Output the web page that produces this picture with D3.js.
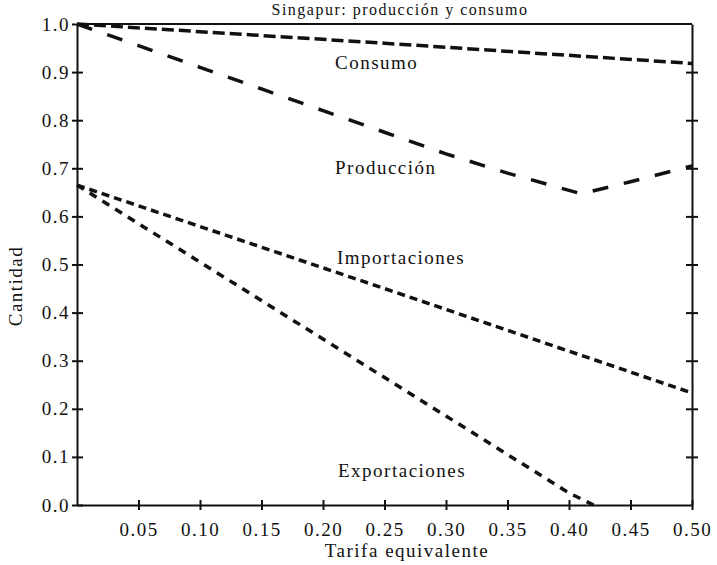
<!DOCTYPE html>
<html>
<head>
<meta charset="utf-8">
<script src="https://cdn.jsdelivr.net/npm/d3@7"></script>
<style>
  body { margin: 0; background: #fff; }
  text { font-family: "Liberation Serif", "DejaVu Serif", serif; fill: #111; }
</style>
</head>
<body>
<div id="chart"></div>
<script>
// data: [tarifa, cantidad]
var consumo = [[0, 1.0], [0.25, 0.96], [0.5, 0.918]];
var produccion = [[0, 1.0], [0.05, 0.955], [0.10, 0.91], [0.15, 0.865], [0.20, 0.82], [0.25, 0.775],
                  [0.30, 0.73], [0.35, 0.69], [0.41, 0.647], [0.45, 0.672], [0.50, 0.705]];
var importaciones = [[0, 0.665], [0.25, 0.45], [0.50, 0.233]];
var exportaciones = [[0, 0.665], [0.10, 0.505], [0.20, 0.345], [0.30, 0.185], [0.35, 0.105],
                     [0.40, 0.025], [0.42, 0.0]];
var xTicks = [0.05, 0.10, 0.15, 0.20, 0.25, 0.30, 0.35, 0.40, 0.45, 0.50];
var yTicks = [0.0, 0.1, 0.2, 0.3, 0.4, 0.5, 0.6, 0.7, 0.8, 0.9, 1.0];
var seriesNames = ["Consumo", "Producción", "Importaciones", "Exportaciones"];

var width = 717, height = 565;
var svg = d3.select("#chart").append("svg")
    .attr("width", width)
    .attr("height", height);

var x = d3.scaleLinear().domain([0, 0.5]).range([77, 692]);
var y = d3.scaleLinear().domain([0, 1]).range([505, 24]);

// title, right at the top edge like in the scan
svg.append("text")
    .attr("x", 400).attr("y", 15)
    .style("text-anchor", "middle")
    .style("font-size", "16px")
    .style("letter-spacing", "1.5px")
    .text("Singapur: producción y consumo");

// frame: top line
svg.append("line")
    .attr("x1", x(0)).attr("x2", x(0.5))
    .attr("y1", y(1)).attr("y2", y(1))
    .attr("stroke", "#111").attr("stroke-width", 2);

// bottom axis
var xAxis = svg.append("g")
    .attr("transform", `translate(0, ${y(0)})`)
    .call(d3.axisBottom(x).tickValues(xTicks).tickSize(0).tickPadding(18)
        .tickFormat(d3.format(".2f")));
xAxis.select(".domain").attr("stroke", "#111").attr("stroke-width", 2);
xAxis.selectAll(".tick line").attr("y1", -5).attr("y2", 5)
    .attr("stroke", "#111").attr("stroke-width", 2);

// left axis
var yAxis = svg.append("g")
    .attr("transform", `translate(${x(0)}, 0)`)
    .call(d3.axisLeft(y).tickValues(yTicks).tickSize(0).tickPadding(7)
        .tickFormat(d3.format(".1f")));
yAxis.select(".domain").attr("stroke", "#111").attr("stroke-width", 2);
yAxis.selectAll(".tick line").attr("x1", -5).attr("x2", 6)
    .attr("stroke", "#111").attr("stroke-width", 2);

// right axis, ticks only
var rAxis = svg.append("g")
    .attr("transform", `translate(${x(0.5)}, 0)`)
    .call(d3.axisRight(y).tickValues(yTicks.slice(1, 10)).tickSize(0).tickFormat(""));
rAxis.select(".domain").attr("stroke", "#111").attr("stroke-width", 2);
rAxis.selectAll(".tick line").attr("x1", -6).attr("x2", 6)
    .attr("stroke", "#111").attr("stroke-width", 2);

svg.selectAll(".tick text")
    .style("font-size", "19px")
    .style("letter-spacing", "1.5px")
    .attr("fill", "#111");

// axis titles
svg.append("text")
    .attr("x", 407).attr("y", 557)
    .style("text-anchor", "middle")
    .style("font-size", "19px")
    .style("letter-spacing", "1.5px")
    .text("Tarifa equivalente");

svg.append("text")
    .attr("transform", "translate(22, 286) rotate(-90)")
    .style("text-anchor", "middle")
    .style("font-size", "19px")
    .style("letter-spacing", "1.5px")
    .text("Cantidad");

// the four lines
var line = d3.line()
    .x(function(d) { return x(d[0]); })
    .y(function(d) { return y(d[1]); });

var lines = [
  {data: consumo, dash: "12,5", w: 3.5},
  {data: produccion, dash: "16,16", w: 3.5},
  {data: importaciones, dash: "8,5", w: 3.5},
  {data: exportaciones, dash: "8,7", w: 3.5}
];

svg.selectAll("path.serie")
    .data(lines)
    .enter()
    .append("path")
    .attr("class", "serie")
    .attr("d", function(d) { return line(d.data); })
    .attr("fill", "none")
    .attr("stroke", "#111")
    .attr("stroke-width", function(d) { return d.w; })
    .attr("stroke-dasharray", function(d) { return d.dash; });

// labels next to the lines
var labelPos = [[335, 69], [335, 174], [337, 264], [338, 477]];
svg.selectAll("text.label")
    .data(seriesNames)
    .enter()
    .append("text")
    .attr("class", "label")
    .attr("x", function(d, i) { return labelPos[i][0]; })
    .attr("y", function(d, i) { return labelPos[i][1]; })
    .style("font-size", "19px")
    .style("letter-spacing", "1.5px")
    .text(function(d) { return d; });
</script>
</body>
</html>
